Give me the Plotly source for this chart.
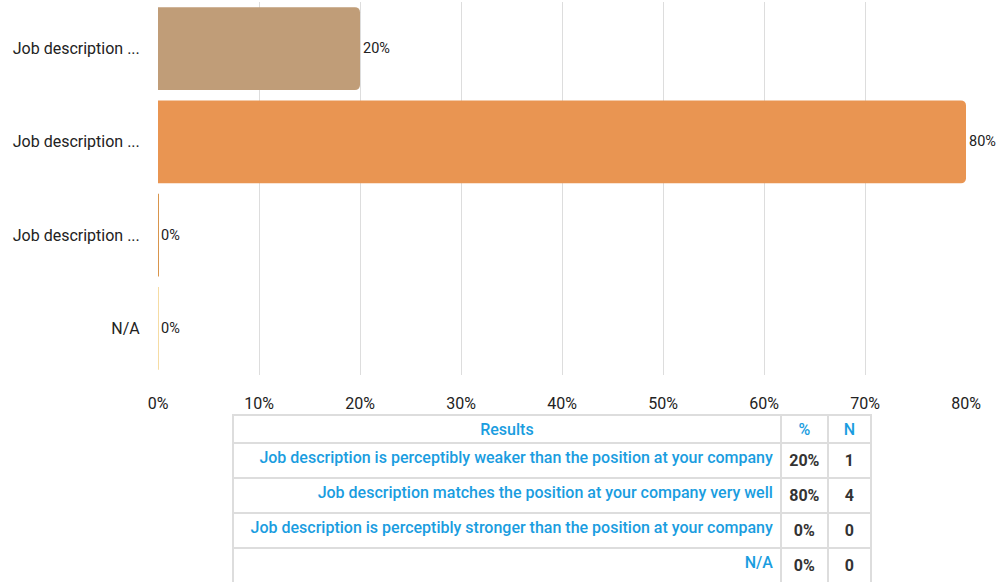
import plotly.graph_objects as go

categories = ["Job description ...", "Job description ...", "Job description ...", "N/A"]
full_labels = [
    "Job description is perceptibly weaker than the position at your company",
    "Job description matches the position at your company very well",
    "Job description is perceptibly stronger than the position at your company",
    "N/A",
]
percent = [20, 80, 0, 0]
counts = [1, 4, 0, 0]
colors = ["#C09D78", "#E99552", "#D9954C", "#F6DCA3"]
x_ticks = [0, 10, 20, 30, 40, 50, 60, 70, 80]

W, H = 1005, 582
ids = [0, 1, 2, 3]

fig = go.Figure()
fig.add_trace(go.Bar(
    y=ids, x=percent, orientation="h",
    marker=dict(color=colors, cornerradius=5,
                line=dict(color=colors, width=[0 if v > 0 else 2 for v in percent])),
    text=[f"{v}%" for v in percent], textposition="outside",
    textfont=dict(family="Roboto", size=14.5, color="#222"),
    cliponaxis=False, hoverinfo="skip", showlegend=False,
))

fig.add_trace(go.Table(
    domain=dict(x=[233 / W, 871 / W], y=[0, 1 - 415 / H]),
    columnwidth=[547, 47, 43],
    header=dict(
        values=["Results", "%", "N"],
        align="center", height=28,
        font=dict(family="Roboto", size=16, color="#1A9DE0", weight=500),
        fill_color="white", line=dict(color="#DDDDDD", width=2),
    ),
    cells=dict(
        values=[full_labels, [f"<b>{v}%</b>" for v in percent], [f"<b>{v}</b>" for v in counts]],
        align=["right", "center", "center"], height=35,
        font=dict(family="Roboto", size=16, color=["#1A9DE0", "#333333", "#333333"], weight=500),
        fill_color="white", line=dict(color="#DDDDDD", width=2),
    ),
))

fig.update_layout(
    width=W, height=H,
    margin=dict(l=0, r=0, t=0, b=0, pad=0),
    paper_bgcolor="white", plot_bgcolor="white",
    bargap=0.11,
    font=dict(family="Roboto", size=14, color="#222"),
    xaxis=dict(
        domain=[158 / W, 966 / W], range=[0, 80], automargin=False,
        tickvals=x_ticks, ticktext=[f"{v}%" for v in x_ticks],
        showgrid=True, gridcolor="#DDDDDD", gridwidth=1,
        zeroline=False, showline=False,
        ticks="outside", ticklen=14, tickcolor="rgba(0,0,0,0)",
        tickfont=dict(family="Roboto", size=16, color="#222"),
        anchor="y",
    ),
    yaxis=dict(
        domain=[1 - 375 / H, 1 - 2 / H], autorange="reversed", automargin=False,
        tickvals=ids, ticktext=categories,
        showgrid=False, zeroline=False, showline=False,
        ticks="outside", ticklen=14, tickcolor="rgba(0,0,0,0)",
        tickfont=dict(family="Roboto", size=16, color="#222"),
    ),
)

fig.write_html("out.html", config={"displayModeBar": False},
               post_script="document.body.style.margin='0';")
